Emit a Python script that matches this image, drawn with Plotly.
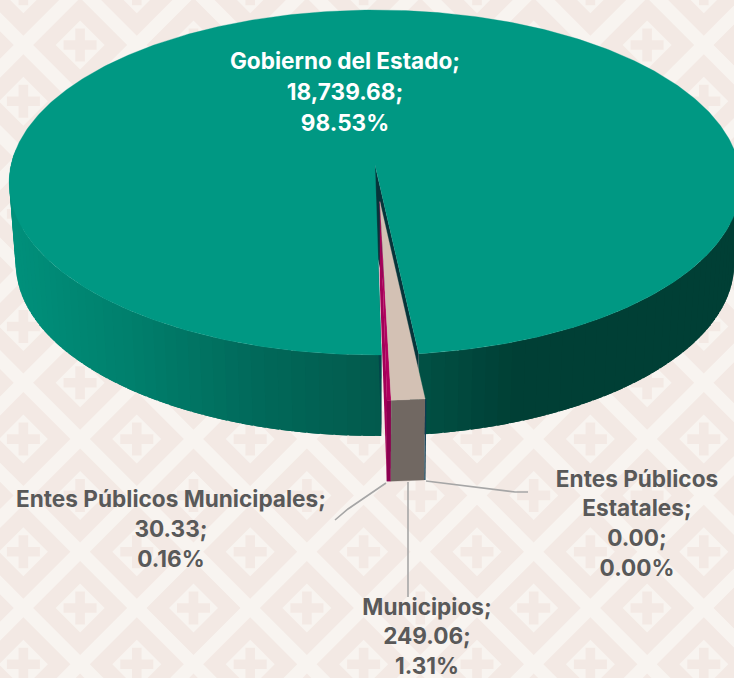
import numpy as np
import plotly.graph_objects as go

categories = ["Gobierno del Estado", "Entes Públicos Estatales", "Municipios", "Entes Públicos Municipales"]
values = [18739.68, 0.00, 249.06, 30.33]
shares = [98.53, 0.00, 1.31, 0.16]
top_colors = ["#009883", "#0b3b52", "#d3c1b4", "#b0005f"]
W, H = 734, 678

cx, cy, Rx, Ry, k = 375.0, 165.0, 364.0, 170.7, 0.1013
drop_px, shrink = 81.0, 0.982
explode = 0.21


def project(u, v, drop=False):
    w = 1 - k * v
    if drop:
        return cx + Rx * shrink * u / w, cy + Ry * v / w + drop_px
    return cx + Rx * u / w, cy + Ry * v / w


total = sum(values)
sweep = [360 * v / total for v in values]
a_beige0 = np.radians(90 - 6.2)
a_beige1 = a_beige0 + np.radians(sweep[2])
a_mag1 = a_beige1 + np.radians(sweep[3])
a_main0 = a_mag1
a_main1 = a_beige0 + 2 * np.pi - np.radians(sweep[1])


def hexmix(a, b, t):
    ca = [int(a[i:i + 2], 16) for i in (1, 3, 5)]
    cb = [int(b[i:i + 2], 16) for i in (1, 3, 5)]
    return "#%02x%02x%02x" % tuple(round(x + (y - x) * t) for x, y in zip(ca, cb))


grad_x = [10, 120, 250, 380, 520, 734]
grad_c = ["#00907b", "#00806d", "#01695a", "#02594c", "#003f35", "#003f35"]


def side_color(x):
    i = min(np.searchsorted(grad_x, x, side="right") - 1, len(grad_x) - 2)
    i = max(i, 0)
    t = (x - grad_x[i]) / (grad_x[i + 1] - grad_x[i])
    return hexmix(grad_c[i], grad_c[i + 1], float(np.clip(t, 0, 1)))


fig = go.Figure()


def poly(xs, ys, color, lw=0.0):
    fig.add_trace(go.Scatter(x=list(xs), y=list(ys), mode="lines", fill="toself", fillcolor=color,
                             line=dict(width=lw, color=color), hoverinfo="skip", showlegend=False))


# Outer wall of the large slice: one band per colour step, each overlapping the next
edges = np.radians(np.linspace(-4, 184, 95))
right_part = np.append(edges[edges <= a_beige0], a_beige0)
left_part = np.insert(edges[edges >= a_main0], 0, a_main0)
for a0, a1 in list(zip(right_part[:-1], right_part[1:]))[::-1]:
    aa = np.linspace(max(a0 - 0.03, right_part[0]), a1, 6)
    xt, yt = project(np.cos(aa), np.sin(aa))
    xb, yb = project(np.cos(aa), np.sin(aa), True)
    poly(list(xt) + list(xb[::-1]), list(yt) + list(yb[::-1]), side_color(float(xt.mean())))
for a0, a1 in zip(left_part[:-1], left_part[1:]):
    aa = np.linspace(a0, a1 + 0.03, 6)
    xt, yt = project(np.cos(aa), np.sin(aa))
    xb, yb = project(np.cos(aa), np.sin(aa), True)
    poly(list(xt) + list(xb[::-1]), list(yt) + list(yb[::-1]), side_color(float(xt.mean())))

# Inner walls of the large slice, seen through the gap left by the pulled-out slices
for ang, col in [(a_beige0, "#06343a"), (a_main0, "#03454a")]:
    xr, yr = project(np.cos(ang), np.sin(ang))
    xrb, yrb = project(np.cos(ang), np.sin(ang), True)
    xa, ya = project(0, 0)
    xab, yab = project(0, 0, True)
    poly([xa, xr, xrb, xab], [ya, yr, yrb, yab], col)

# Top of the large slice
th = np.linspace(a_main0, a_main1, 500)
xs, ys = project(np.cos(th), np.sin(th))
x0, y0 = project(0, 0)
poly([x0, *xs, x0], [y0, *ys, y0], top_colors[0], 0.3)

# The small slices are pulled out together, in the direction of their common middle
group_mid = (a_beige0 + a_mag1) / 2
ox, oy = explode * np.cos(group_mid), explode * np.sin(group_mid)


def wedge(a0, a1, top, front, side=None):
    tt = np.linspace(a0, a1, 21)
    u, v = ox + np.cos(tt), oy + np.sin(tt)
    xo, yo = project(u, v)
    xb, yb = project(u, v, True)
    xc, yc = project(ox, oy)
    if side:
        xcb, ycb = project(ox, oy, True)
        poly([xc, xo[-1], xb[-1], xcb], [yc, yo[-1], yb[-1], ycb], side)
    poly(list(xo) + list(xb[::-1]), list(yo) + list(yb[::-1]), front, 0.3)
    poly([xc, *xo, xc], [yc, *yo, yc], top, 0.3)
    return xo, yo, xb, yb


wedge(a_beige1, a_mag1, top_colors[3], "#8c0050", "#a30058")
xo, yo, xb, yb = wedge(a_beige0, a_beige1, top_colors[2], "#716862")
poly([xo[0], xo[0] + 1.2, xb[0] + 1.2, xb[0]], [yo[0], yo[0], yb[0], yb[0]], top_colors[1])

# Leader lines
leader_lines = [
    ([426, 515, 528], [481, 492, 492]),
    ([408, 408], [482, 597]),
    ([386, 348, 335], [483, 509, 520]),
]
for lx, ly in leader_lines:
    fig.add_trace(go.Scatter(x=lx, y=ly, mode="lines", line=dict(color="#a6a6a6", width=1.6),
                             hoverinfo="skip", showlegend=False))


def label_lines(i, split=None):
    name = split or [categories[i] + ";"]
    return name + [f"{values[i]:,.2f};", f"{shares[i]:.2f}%"]


labels = [
    (label_lines(0), 345, 63, 31, "#ffffff"),
    (label_lines(1, ["Entes Públicos", "Estatales;"]), 637, 481, 29.7, "#595959"),
    (label_lines(2), 427, 609, 29.7, "#595959"),
    (label_lines(3), 171, 501, 30, "#595959"),
]
for lines, lx, ly, step, col in labels:
    fig.add_trace(go.Scatter(
        x=[lx] * len(lines), y=[ly + step * n for n in range(len(lines))], text=lines,
        mode="text", textposition="middle center", cliponaxis=False,
        textfont=dict(family="Inter", size=22.6, color=col, weight=700),
        hoverinfo="skip", showlegend=False))

# Background lattice of diamonds and crosses
tile_dx, tile_dy = 56.7, 56.3
outer, inner, arm, arm_w = 47.0, 24.5, 16.5, 4.8
pd, pl, pc = [], [], []
for j in range(-2, 15):
    for i in range(-2, 16):
        if (i + j) % 2:
            continue
        c_x, c_y = 23.4 + i * tile_dx, -11.3 + j * tile_dy
        pd.append(f"M{c_x - outer},{c_y}L{c_x},{c_y - outer}L{c_x + outer},{c_y}L{c_x},{c_y + outer}Z")
        pl.append(f"M{c_x - inner},{c_y}L{c_x},{c_y - inner}L{c_x + inner},{c_y}L{c_x},{c_y + inner}Z")
        a, b = arm, arm_w
        pc.append(f"M{c_x - a},{c_y - b}H{c_x - b}V{c_y - a}H{c_x + b}V{c_y - b}H{c_x + a}V{c_y + b}"
                  f"H{c_x + b}V{c_y + a}H{c_x - b}V{c_y + b}H{c_x - a}Z")
shapes = [dict(type="path", path=" ".join(p), xref="x", yref="y", fillcolor=col, line=dict(width=0), layer="below")
          for p, col in [(pd, "#f3e9e4"), (pl, "#f8f4f0"), (pc, "#f3e9e4")]]

fig.update_layout(
    width=W, height=H, margin=dict(l=0, r=0, t=0, b=0), autosize=False,
    paper_bgcolor="#f8f4f0", plot_bgcolor="rgba(0,0,0,0)", shapes=shapes, showlegend=False,
    xaxis=dict(range=[0, W], visible=False, fixedrange=True),
    yaxis=dict(range=[H, 0], visible=False, fixedrange=True),
)
fig.write_html("out.html", config={"displayModeBar": False},
               post_script="document.body.style.margin='0';document.body.style.overflow='hidden';")
